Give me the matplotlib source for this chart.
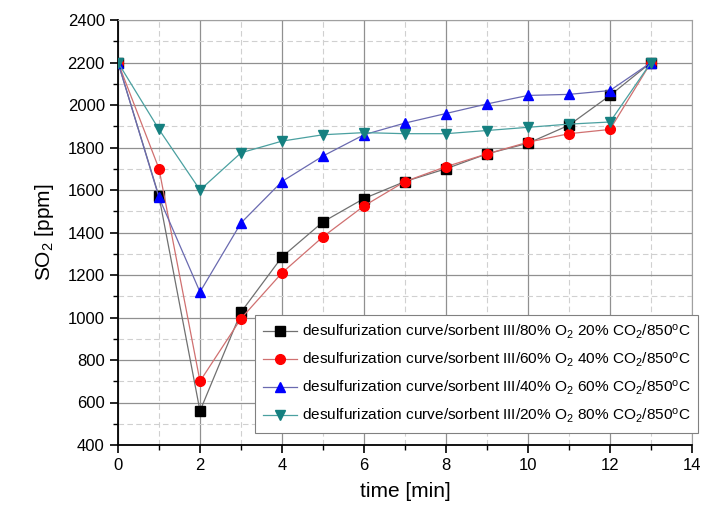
import numpy as np
import matplotlib.pyplot as plt
from matplotlib.ticker import MultipleLocator

plt.rcParams['font.family'] = ['Liberation Sans', 'DejaVu Sans']
plt.rcParams['mathtext.fontset'] = 'custom'
plt.rcParams['mathtext.rm'] = 'Liberation Sans'
plt.rcParams['mathtext.it'] = 'Liberation Sans:italic'

time_min = [0, 1, 2, 3, 4, 5, 6, 7, 8, 9, 10, 11, 12, 13]

so2_80_o2 = [2200, 1570, 560, 1025, 1285, 1450, 1560, 1640, 1700, 1770, 1820, 1905, 2045, 2200]
so2_60_o2 = [2200, 1700, 700, 995, 1210, 1380, 1525, 1640, 1710, 1770, 1825, 1865, 1885, 2200]
so2_40_o2 = [2200, 1565, 1120, 1445, 1640, 1760, 1860, 1915, 1960, 2005, 2045, 2050, 2068, 2200]
so2_20_o2 = [2200, 1885, 1600, 1775, 1830, 1860, 1870, 1865, 1865, 1880, 1895, 1910, 1920, 2200]

labels = [
    r"desulfurization curve/sorbent III/80% O$_2$ 20% CO$_2$/850$^{\mathrm{o}}$C",
    r"desulfurization curve/sorbent III/60% O$_2$ 40% CO$_2$/850$^{\mathrm{o}}$C",
    r"desulfurization curve/sorbent III/40% O$_2$ 60% CO$_2$/850$^{\mathrm{o}}$C",
    r"desulfurization curve/sorbent III/20% O$_2$ 80% CO$_2$/850$^{\mathrm{o}}$C",
]

series = [so2_80_o2, so2_60_o2, so2_40_o2, so2_20_o2]
markers = ["s", "o", "^", "v"]
marker_colors = ["#000000", "#ff0000", "#0000ff", "#158080"]
line_colors = ["#707070", "#d07070", "#6a6ab0", "#4aa0a0"]

fig = plt.figure(figsize=(7.03, 5.07), dpi=100)
ax = fig.add_axes([118 / 703, 1 - 445 / 507, (692 - 118) / 703, (445 - 20) / 507])

for y, m, mc, lc, lab in zip(series, markers, marker_colors, line_colors, labels):
    ax.plot(time_min, y, color=lc, lw=0.9, marker=m, markersize=7,
            markerfacecolor=mc, markeredgecolor=mc, label=lab, zorder=3)

ax.set_xlim(0, 14)
ax.set_ylim(400, 2400)
ax.xaxis.set_major_locator(MultipleLocator(2))
ax.xaxis.set_minor_locator(MultipleLocator(1))
ax.yaxis.set_major_locator(MultipleLocator(200))
ax.yaxis.set_minor_locator(MultipleLocator(100))

ax.grid(which="major", color="#909090", lw=0.9, ls="-")
ax.grid(which="minor", color="#d0d0d0", lw=0.8, ls=(0, (5, 3)))
ax.set_axisbelow(True)

ax.tick_params(which="major", direction="out", length=6, width=1.2, labelsize=12)
ax.tick_params(which="minor", direction="out", length=3.5, width=1.0)
for side in ("left", "bottom"):
    ax.spines[side].set_linewidth(1.3)
for side in ("top", "right"):
    ax.spines[side].set_color("#a0a0a0")

ax.set_xlabel("time [min]", fontsize=15, labelpad=6)
ax.set_ylabel(r"SO$_2$ [ppm]", fontsize=15, labelpad=8)

leg = ax.legend(loc="lower right", bbox_to_anchor=(698 / 703, 1 - 433 / 507),
                bbox_transform=fig.transFigure, fontsize=11.1, frameon=True,
                fancybox=False, edgecolor="#808080", framealpha=1,
                handlelength=2.2, handletextpad=0.3, borderpad=0.5,
                labelspacing=0.62, borderaxespad=0)
leg.get_frame().set_linewidth(0.8)

fig.savefig("out.png", dpi=100)
